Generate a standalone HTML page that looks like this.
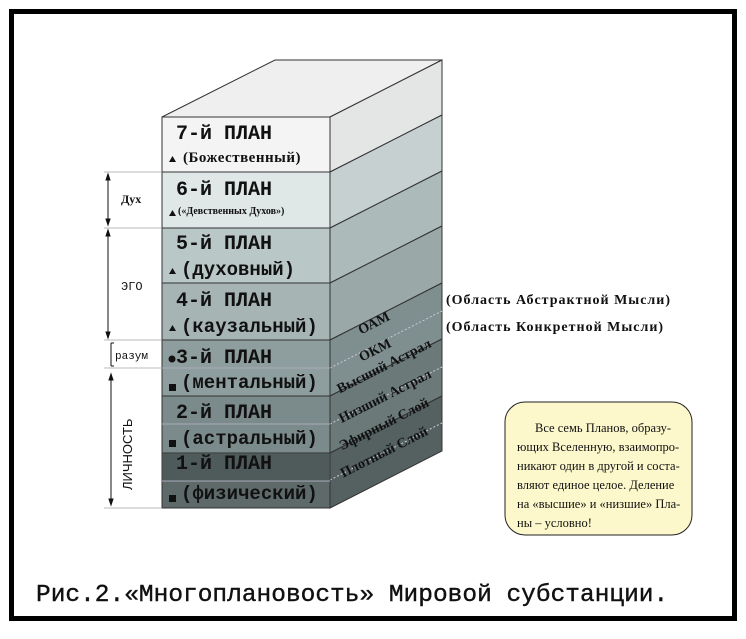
<!DOCTYPE html>
<html><head><meta charset="utf-8"><style>
body{margin:0;background:#fff;width:746px;height:634px;overflow:hidden}
</style></head><body>
<svg width="746" height="634" viewBox="0 0 746 634" xmlns="http://www.w3.org/2000/svg">
<rect x="11.5" y="11.5" width="723" height="607" fill="#fff" stroke="#000" stroke-width="5"/>
<polygon points="162,117 275,60 442,60 330,117" fill="#efefef" stroke="#333" stroke-width="1"/>
<g stroke="#333" stroke-width="1">
<polygon points="330,117 442,60 442,115 330,172" fill="#e4e6e6"/>
<polygon points="330,172 442,115 442,171 330,228" fill="#c7d0d0"/>
<polygon points="330,228 442,171 442,226 330,283" fill="#adbaba"/>
<polygon points="330,283 442,226 442,283 330,340" fill="#9aa8a8"/>
<polygon points="330,340 442,283 442,339 330,396" fill="#7f8e8e"/>
<polygon points="330,396 442,339 442,396 330,453" fill="#6b7979"/>
<polygon points="330,453 442,396 442,451 330,508" fill="#556161"/>
</g>
<g stroke="#ccd" stroke-width="1" stroke-dasharray="2,2" fill="none">
<line x1="330" y1="368" x2="442" y2="311"/>
<line x1="330" y1="424" x2="442" y2="367"/>
<line x1="330" y1="480" x2="442" y2="423"/>
</g>
<g stroke="#333" stroke-width="1">
<rect x="162" y="117" width="168" height="55" fill="#f4f4f4"/>
<rect x="162" y="172" width="168" height="56" fill="#dfe7e7"/>
<rect x="162" y="228" width="168" height="55" fill="#bac7c7"/>
<rect x="162" y="283" width="168" height="57" fill="#a6b4b4"/>
<rect x="162" y="340" width="168" height="56" fill="#8e9d9d"/>
<rect x="162" y="396" width="168" height="57" fill="#7b8a8a"/>
<rect x="162" y="453" width="168" height="55" fill="#5e6a6a"/>
</g>
<rect x="163" y="454" width="166" height="27" fill="#4f5a5a"/>
<g stroke="#aab" stroke-width="1">
<line x1="162" y1="368" x2="330" y2="368"/>
<line x1="162" y1="424" x2="330" y2="424"/>
<line x1="162" y1="481" x2="330" y2="481"/>
</g>
<g font-family="Liberation Mono, monospace" font-weight="bold" font-size="20" fill="#111">
<text x="176" y="139">7-й ПЛАН</text>
<text x="176" y="195">6-й ПЛАН</text>
<text x="176" y="249">5-й ПЛАН</text>
<text x="176" y="306">4-й ПЛАН</text>
<text x="176" y="363">3-й ПЛАН</text>
<text x="176" y="418">2-й ПЛАН</text>
<text x="176" y="469">1-й ПЛАН</text>
</g>
<g font-family="Liberation Mono, monospace" font-weight="bold" font-size="19" fill="#111">
<text x="181" y="275">(духовный)</text>
<text x="181" y="332">(каузальный)</text>
<text x="181" y="388">(ментальный)</text>
<text x="181" y="444">(астральный)</text>
<text x="181" y="499">(физический)</text>
</g>
<g font-family="Liberation Serif, serif" font-weight="bold" fill="#111">
<text x="183" y="162" font-size="15" letter-spacing="0.5">(Божественный)</text>
<text x="178" y="214" font-size="10">(«Девственных Духов»)</text>
</g>
<g fill="#111">
<polygon points="169,162 176,162 172.5,156"/>
<polygon points="169,216 176,216 172.5,210"/>
<polygon points="169,274 176,274 172.5,268"/>
<polygon points="169,331 176,331 172.5,325"/>
<circle cx="172" cy="359" r="3.5"/>
<rect x="169" y="384" width="7" height="7"/>
<rect x="169" y="440" width="7" height="7"/>
<rect x="169" y="495" width="7" height="7"/>
</g>
<g font-family="Liberation Serif, serif" font-weight="bold" font-size="14" fill="#111" text-anchor="middle">
<text transform="translate(376,327) rotate(-27)">ОАМ</text>
<text transform="translate(377,354) rotate(-27)">ОКМ</text>
<text transform="translate(386,370) rotate(-27)">Высший Астрал</text>
<text transform="translate(387,400) rotate(-27)">Низший Астрал</text>
<text transform="translate(386,428) rotate(-27)">Эфирный Слой</text>
<text transform="translate(386,456) rotate(-27)">Плотный Слой</text>
</g>
<g stroke="#bbb" stroke-width="1">
<line x1="104" y1="172" x2="161" y2="172"/>
<line x1="104" y1="228" x2="161" y2="228"/>
<line x1="104" y1="340" x2="161" y2="340"/>
<line x1="104" y1="368" x2="161" y2="368"/>
<line x1="104" y1="508" x2="161" y2="508"/>
</g>
<g stroke="#111" stroke-width="1" fill="#111">
<line x1="108" y1="176" x2="108" y2="223"/>
<polygon points="106,180 110,180 108,174"/><polygon points="106,219 110,219 108,225"/>
<line x1="108" y1="232" x2="108" y2="336"/>
<polygon points="106,236 110,236 108,230"/><polygon points="106,332 110,332 108,338"/>
<line x1="111" y1="343" x2="111" y2="366"/>
<line x1="111" y1="343" x2="114" y2="343"/><line x1="111" y1="366" x2="114" y2="366"/>
<line x1="111" y1="376" x2="111" y2="503"/>
<polygon points="109,380 113,380 111,374"/><polygon points="109,499 113,499 111,505"/>
</g>
<text x="121" y="203" font-family="Liberation Serif, serif" font-weight="bold" font-size="12" fill="#111">Дух</text>
<text x="121" y="290" font-family="Liberation Mono, monospace" font-size="12" fill="#111">ЭГО</text>
<text x="115" y="359" font-family="Liberation Mono, monospace" font-size="11" fill="#111">разум</text>
<text transform="translate(132,490) rotate(-90)" font-family="Liberation Sans, sans-serif" font-size="13" fill="#111">ЛИЧНОСТЬ</text>
<g font-family="Liberation Serif, serif" font-weight="bold" font-size="14" fill="#111" letter-spacing="1">
<text x="446" y="304">(Область Абстрактной Мысли)</text>
<text x="446" y="331">(Область Конкретной Мысли)</text>
</g>
<rect x="505" y="402" width="187" height="133" rx="20" fill="#fdf8cc" stroke="#222" stroke-width="1"/>
<g font-family="Liberation Serif, serif" font-size="12.5" fill="#111">
<text x="535" y="432">Все семь Планов, образу-</text>
<text x="517" y="451">ющих Вселенную, взаимопро-</text>
<text x="517" y="470">никают один в другой и соста-</text>
<text x="517" y="489">вляют единое целое. Деление</text>
<text x="517" y="508">на «высшие» и «низшие» Пла-</text>
<text x="517" y="527">ны – условно!</text>
</g>
<text x="36" y="601" font-family="Liberation Mono, monospace" font-size="24.5" fill="#111" stroke="#111" stroke-width="0.4">Рис.2.«Многоплановость» Мировой субстанции.</text>
</svg>
</body></html>
